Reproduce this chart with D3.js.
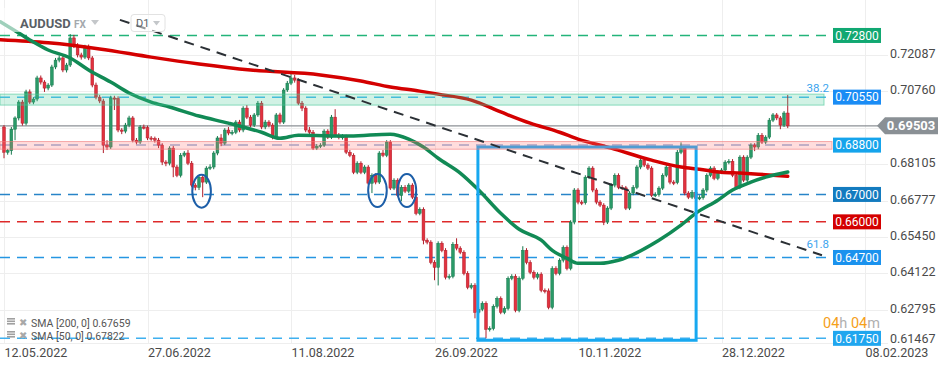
<!DOCTYPE html>
<html>
<head>
<meta charset="utf-8">
<script src="https://cdn.jsdelivr.net/npm/d3@7"></script>
<style>
    body { margin: 0; background: #fff; }
    svg { display: block; font-family: Roboto, "Noto Sans", sans-serif; }
</style>
</head>
<body>
<div id="chart"></div>
<script>
// Daily AUDUSD candles (open = previous close)
const firstOpen = 0.6946;
const closes = [
    0.6854, 0.6860, 0.6938, 0.6979, 0.7037, 0.6960, 0.7074, 0.7037, 0.7048, 0.7125,
    0.7110, 0.7088, 0.7099, 0.7165, 0.7190, 0.7198, 0.7154, 0.7172, 0.7271, 0.7245,
    0.7209, 0.7201, 0.7238, 0.7198, 0.7099, 0.7055, 0.7041, 0.6880, 0.6873, 0.7052,
    0.7050, 0.6935, 0.6931, 0.6953, 0.6979, 0.6898, 0.6891, 0.6946, 0.6944, 0.6906,
    0.6904, 0.6898, 0.6880, 0.6818, 0.6814, 0.6869, 0.6800, 0.6770, 0.6843, 0.6851,
    0.6814, 0.6734, 0.6726, 0.6763, 0.6745, 0.6796, 0.6800, 0.6851, 0.6906, 0.6887,
    0.6935, 0.6924, 0.6927, 0.6964, 0.6935, 0.7015, 0.6982, 0.6953, 0.6990, 0.7033,
    0.6946, 0.6964, 0.6953, 0.6909, 0.6990, 0.6964, 0.7081, 0.7106, 0.7125, 0.7117,
    0.7033, 0.7015, 0.6935, 0.6927, 0.6869, 0.6876, 0.6880, 0.6931, 0.6909, 0.6982,
    0.6916, 0.6909, 0.6911, 0.6854, 0.6843, 0.6781, 0.6814, 0.6781, 0.6800, 0.6741,
    0.6770, 0.6745, 0.6851, 0.6843, 0.6891, 0.6723, 0.6752, 0.6697, 0.6726, 0.6712,
    0.6734, 0.6690, 0.6631, 0.6646, 0.6533, 0.6526, 0.6452, 0.6434, 0.6522, 0.6496,
    0.6398, 0.6401, 0.6518, 0.6504, 0.6489, 0.6412, 0.6361, 0.6368, 0.6270, 0.6281,
    0.6303, 0.6208, 0.6211, 0.6292, 0.6321, 0.6270, 0.6284, 0.6394, 0.6401, 0.6277,
    0.6394, 0.6496, 0.6452, 0.6416, 0.6398, 0.6409, 0.6350, 0.6348, 0.6288, 0.6430,
    0.6412, 0.6460, 0.6507, 0.6430, 0.6599, 0.6716, 0.6672, 0.6670, 0.6763, 0.6796,
    0.6716, 0.6672, 0.6661, 0.6599, 0.6650, 0.6734, 0.6770, 0.6726, 0.6724, 0.6650,
    0.6705, 0.6726, 0.6800, 0.6825, 0.6807, 0.6796, 0.6697, 0.6699, 0.6723, 0.6770,
    0.6800, 0.6745, 0.6743, 0.6854, 0.6869, 0.6705, 0.6690, 0.6708, 0.6686, 0.6688,
    0.6716, 0.6770, 0.6796, 0.6759, 0.6781, 0.6789, 0.6818, 0.6821, 0.6770, 0.6726,
    0.6836, 0.6752, 0.6836, 0.6880, 0.6873, 0.6916, 0.6891, 0.6909, 0.6971, 0.6990,
    0.6979, 0.6953, 0.6997, 0.69503
];
const highs = [
    0.6953, 0.6866, 0.6946, 0.6985, 0.7044, 0.7045, 0.7082, 0.7083, 0.7055, 0.7133,
    0.7134, 0.7117, 0.7106, 0.7173, 0.7198, 0.7207, 0.7206, 0.7180, 0.7285, 0.7282,
    0.7252, 0.7217, 0.7246, 0.7247, 0.7205, 0.7108, 0.7063, 0.7049, 0.6898, 0.7060,
    0.7060, 0.7058, 0.6942, 0.6961, 0.6987, 0.6986, 0.6906, 0.6953, 0.6955, 0.6951,
    0.6913, 0.6911, 0.6906, 0.6887, 0.6825, 0.6876, 0.6877, 0.6808, 0.6851, 0.6858,
    0.6862, 0.6822, 0.6741, 0.6770, 0.6770, 0.6803, 0.6810, 0.6858, 0.6913, 0.6920,
    0.6942, 0.6946, 0.6935, 0.6971, 0.6972, 0.7022, 0.7026, 0.6990, 0.6997, 0.7041,
    0.7041, 0.6972, 0.6971, 0.6960, 0.6997, 0.6998, 0.7088, 0.7114, 0.7140, 0.7136,
    0.7124, 0.7041, 0.7022, 0.6946, 0.6935, 0.6884, 0.6887, 0.6938, 0.6938, 0.6990,
    0.7011, 0.6924, 0.6920, 0.6918, 0.6862, 0.6850, 0.6821, 0.6821, 0.6807, 0.6807,
    0.6777, 0.6777, 0.6858, 0.6862, 0.6898, 0.6898, 0.6759, 0.6759, 0.6734, 0.6734,
    0.6741, 0.6741, 0.6697, 0.6653, 0.6653, 0.6540, 0.6533, 0.6460, 0.6529, 0.6529,
    0.6504, 0.6409, 0.6526, 0.6540, 0.6511, 0.6496, 0.6420, 0.6376, 0.6376, 0.6288,
    0.6310, 0.6310, 0.6219, 0.6299, 0.6328, 0.6328, 0.6292, 0.6401, 0.6409, 0.6409,
    0.6401, 0.6511, 0.6504, 0.6460, 0.6423, 0.6416, 0.6416, 0.6357, 0.6357, 0.6438,
    0.6438, 0.6467, 0.6514, 0.6514, 0.6606, 0.6723, 0.6723, 0.6679, 0.6770, 0.6803,
    0.6803, 0.6723, 0.6679, 0.6668, 0.6657, 0.6741, 0.6777, 0.6777, 0.6734, 0.6731,
    0.6712, 0.6734, 0.6807, 0.6832, 0.6832, 0.6814, 0.6803, 0.6708, 0.6730, 0.6777,
    0.6807, 0.6807, 0.6752, 0.6862, 0.6890, 0.6876, 0.6712, 0.6716, 0.6716, 0.6697,
    0.6723, 0.6777, 0.6803, 0.6803, 0.6789, 0.6796, 0.6825, 0.6829, 0.6829, 0.6777,
    0.6843, 0.6843, 0.6843, 0.6887, 0.6887, 0.6924, 0.6924, 0.6916, 0.6979, 0.6997,
    0.6997, 0.6986, 0.7004, 0.7063
];
const lows = [
    0.6832, 0.6845, 0.6845, 0.6898, 0.6970, 0.6951, 0.6952, 0.7030, 0.7029, 0.7040,
    0.7101, 0.7074, 0.7080, 0.7092, 0.7157, 0.7182, 0.7146, 0.7145, 0.7165, 0.7234,
    0.7200, 0.7192, 0.7194, 0.7190, 0.7091, 0.7047, 0.7033, 0.6851, 0.6862, 0.6866,
    0.7008, 0.6927, 0.6920, 0.6923, 0.6945, 0.6890, 0.6883, 0.6884, 0.6937, 0.6898,
    0.6896, 0.6889, 0.6869, 0.6807, 0.6803, 0.6806, 0.6763, 0.6763, 0.6762, 0.6836,
    0.6807, 0.6726, 0.6715, 0.6716, 0.6690, 0.6738, 0.6789, 0.6792, 0.6843, 0.6876,
    0.6880, 0.6916, 0.6916, 0.6920, 0.6927, 0.6927, 0.6975, 0.6945, 0.6946, 0.6983,
    0.6938, 0.6938, 0.6945, 0.6901, 0.6901, 0.6956, 0.6957, 0.7074, 0.7099, 0.7108,
    0.7026, 0.7004, 0.6927, 0.6916, 0.6862, 0.6862, 0.6869, 0.6873, 0.6902, 0.6902,
    0.6909, 0.6901, 0.6900, 0.6847, 0.6836, 0.6774, 0.6774, 0.6774, 0.6774, 0.6734,
    0.6705, 0.6737, 0.6738, 0.6836, 0.6836, 0.6716, 0.6716, 0.6690, 0.6675, 0.6705,
    0.6705, 0.6683, 0.6624, 0.6624, 0.6518, 0.6518, 0.6445, 0.6387, 0.6368, 0.6489,
    0.6390, 0.6390, 0.6394, 0.6496, 0.6482, 0.6405, 0.6354, 0.6354, 0.6248, 0.6263,
    0.6274, 0.6175, 0.6200, 0.6204, 0.6284, 0.6263, 0.6263, 0.6277, 0.6387, 0.6270,
    0.6270, 0.6387, 0.6445, 0.6409, 0.6390, 0.6390, 0.6343, 0.6339, 0.6281, 0.6281,
    0.6405, 0.6405, 0.6452, 0.6423, 0.6423, 0.6591, 0.6664, 0.6661, 0.6663, 0.6756,
    0.6708, 0.6664, 0.6654, 0.6588, 0.6592, 0.6643, 0.6726, 0.6719, 0.6716, 0.6643,
    0.6643, 0.6697, 0.6719, 0.6792, 0.6800, 0.6789, 0.6690, 0.6690, 0.6692, 0.6716,
    0.6763, 0.6737, 0.6734, 0.6737, 0.6847, 0.6697, 0.6683, 0.6683, 0.6679, 0.6679,
    0.6681, 0.6708, 0.6763, 0.6752, 0.6752, 0.6774, 0.6781, 0.6810, 0.6763, 0.6719,
    0.6719, 0.6745, 0.6745, 0.6829, 0.6858, 0.6865, 0.6884, 0.6884, 0.6902, 0.6964,
    0.6971, 0.6938, 0.6946, 0.6942
];

// Moving averages: [candle index, value]
const sma200 = [
    [-1, 0.7264], [12, 0.7253], [26, 0.7231], [40, 0.7201], [53, 0.7176], [67, 0.7154],
    [86, 0.7136], [97, 0.7114], [105, 0.7092], [113, 0.7077], [118, 0.7066], [127, 0.7044],
    [135, 0.7001], [143, 0.6960], [151, 0.6927], [156, 0.6902], [165, 0.6869], [176, 0.6825],
    [184, 0.6800], [189, 0.6792], [195, 0.6781], [200, 0.6778], [205, 0.6774], [213, 0.6766]
];
const sma50 = [
    [-1, 0.7330], [4, 0.7289], [8, 0.7256], [12, 0.7227], [18, 0.7198], [23, 0.7154],
    [29, 0.7110], [34, 0.7070], [40, 0.7037], [45, 0.7019], [53, 0.6986], [61, 0.6960],
    [70, 0.6927], [75, 0.6905], [80, 0.6916], [94, 0.6913], [105, 0.6920], [110, 0.6902],
    [114, 0.6873], [118, 0.6832], [124, 0.6778], [129, 0.6716], [135, 0.6631], [140, 0.6573],
    [146, 0.6533], [149, 0.6496], [153, 0.6467], [156, 0.6449], [162, 0.6449], [167, 0.6460],
    [178, 0.6533], [184, 0.6588], [188, 0.6631], [194, 0.6679], [198, 0.6716], [203, 0.6745],
    [207, 0.6763], [213, 0.6782]
];

// Horizontal levels and zones
const levels = [0.72800, 0.70550, 0.68800, 0.67000, 0.66000, 0.64700, 0.61750];
const greenZone = [0.7026, 0.7066];
const pinkZone = [0.6865, 0.6893];
const lastPrice = 0.69503;

// Drawings
const trendLine = [[31.5, 0.7337], [222.3, 0.6478]];
const boxCorners = [[128.8, 0.6873], [188.1, 0.6168]];
const circles = [[53.7, 0.6712], [101.5, 0.6714], [109.5, 0.6714]];
const fibLabels = [["38.2", 0.7075], ["61.8", 0.6505]];

// Axes (0.69433 sits under the last-price tag, so only its grid line shows)
const yTicks = [0.72087, 0.70760, 0.69433, 0.68105, 0.66777, 0.65450, 0.64122, 0.62795, 0.61467];
const yHidden = [0.69433];
const xTickIdx = [0, 39, 78, 117, 156, 195, 234];
const xTickLabels = ["12.05.2022", "27.06.2022", "11.08.2022", "26.09.2022", "10.11.2022", "28.12.2022", "08.02.2023"];

const smaLegend = [["SMA [200,  0]", "0.67659"], ["SMA [50,  0]", "0.67822"]];

function drawChart() {
    const width = 949;
    const height = 370;
    const plotBottom = 343;

    const levelStyle = [
        { line: "#23b47a", box: "#11a872" },
        { line: "#45b8f0", box: "#1a8cf5" },
        { line: "#93aed6", box: "#15a4ec" },
        { line: "#2784c8", box: "#137bbf" },
        { line: "#de2a2a", box: "#d40000" },
        { line: "#2596e2", box: "#1a92ee" },
        { line: "#3fb0ef", box: "#20a6ef" }
    ];

    const svg = d3
        .select("#chart")
        .html("")
        .append("svg")
        .attr("width", width)
        .attr("height", height);

    const x = d3.scaleLinear().domain([0, 234]).range([4, 865]);
    const y = d3.scaleLinear().domain([0.61580, 0.74094]).range([plotBottom, 0]);

    // Grid
    const grid = svg.append("g").attr("stroke", "#eeeeee").attr("stroke-width", 1);
    yTicks.forEach((t) => {
        if (y(t) < plotBottom) {
            grid.append("line").attr("x1", 0).attr("x2", 888).attr("y1", Math.round(y(t)) + 0.5).attr("y2", Math.round(y(t)) + 0.5);
        }
    });
    grid.append("line").attr("x1", 0).attr("x2", 888).attr("y1", plotBottom + 0.5).attr("y2", plotBottom + 0.5);
    xTickIdx.forEach((t) => {
        grid.append("line").attr("x1", Math.round(x(t)) + 0.5).attr("x2", Math.round(x(t)) + 0.5).attr("y1", 0).attr("y2", plotBottom);
    });

    // Level lines (dashed)
    levels.forEach((v, i) => {
        svg.append("line")
            .attr("x1", 0)
            .attr("x2", 833)
            .attr("y1", y(v))
            .attr("y2", y(v))
            .attr("stroke", levelStyle[i].line)
            .attr("stroke-width", 1.5)
            .attr("stroke-dasharray", "10,7");
    });

    // Last price line
    svg.append("line")
        .attr("x1", 0)
        .attr("x2", 878)
        .attr("y1", y(lastPrice))
        .attr("y2", y(lastPrice))
        .attr("stroke", "#8c9196")
        .attr("stroke-width", 1.3);

    // Candles
    const candles = closes.map((c, i) => ({
        i,
        o: i === 0 ? firstOpen : closes[i - 1],
        c,
        h: highs[i],
        l: lows[i]
    }));
    const up = { fill: "#2a9a68", stroke: "#17784d" };
    const down = { fill: "#e2323f", stroke: "#b01e2b" };

    const cg = svg.append("g");
    cg.selectAll(".wick")
        .data(candles)
        .join("line")
        .attr("class", "wick")
        .attr("x1", (d) => x(d.i))
        .attr("x2", (d) => x(d.i))
        .attr("y1", (d) => y(Math.max(d.h, d.o, d.c)))
        .attr("y2", (d) => y(Math.min(d.l, d.o, d.c)))
        .attr("stroke", (d) => (d.c >= d.o ? up.stroke : down.stroke))
        .attr("stroke-width", 1);
    cg.selectAll(".body")
        .data(candles)
        .join("rect")
        .attr("class", "body")
        .attr("x", (d) => x(d.i) - 1.4)
        .attr("width", 2.8)
        .attr("y", (d) => y(Math.max(d.o, d.c)))
        .attr("height", (d) => Math.max(1.2, y(Math.min(d.o, d.c)) - y(Math.max(d.o, d.c))))
        .attr("fill", (d) => (d.c >= d.o ? up.fill : down.fill))
        .attr("stroke", (d) => (d.c >= d.o ? up.stroke : down.stroke))
        .attr("stroke-width", 0.5);

    // Moving averages
    const smaLine = d3.line().x((d) => x(d[0])).y((d) => y(d[1])).curve(d3.curveMonotoneX);
    svg.append("path")
        .attr("d", smaLine(sma200))
        .attr("fill", "none")
        .attr("stroke", "#d40000")
        .attr("stroke-width", 3.5)
        .attr("stroke-linecap", "round");
    svg.append("path")
        .attr("d", smaLine(sma50))
        .attr("fill", "none")
        .attr("stroke", "#118a55")
        .attr("stroke-width", 3.5)
        .attr("stroke-linecap", "round");

    // Blue box
    svg.append("rect")
        .attr("x", x(boxCorners[0][0]))
        .attr("y", y(boxCorners[0][1]))
        .attr("width", x(boxCorners[1][0]) - x(boxCorners[0][0]))
        .attr("height", y(boxCorners[1][1]) - y(boxCorners[0][1]))
        .attr("fill", "none")
        .attr("stroke", "#17a8f0")
        .attr("stroke-width", 3);

    // Zones
    svg.append("rect")
        .attr("x", 0)
        .attr("y", y(greenZone[1]))
        .attr("width", 824)
        .attr("height", y(greenZone[0]) - y(greenZone[1]))
        .attr("fill", "rgba(70,205,150,0.25)")
        .attr("stroke", "rgba(70,200,150,0.6)")
        .attr("stroke-width", 1);
    svg.append("rect")
        .attr("x", 0)
        .attr("y", y(pinkZone[1]))
        .attr("width", 832)
        .attr("height", y(pinkZone[0]) - y(pinkZone[1]))
        .attr("fill", "rgba(255,120,120,0.25)")
        .attr("stroke", "rgba(240,120,120,0.6)")
        .attr("stroke-width", 1);

    // Trend line
    svg.append("path")
        .attr("d", d3.line().x((d) => x(d[0])).y((d) => y(d[1]))(trendLine))
        .attr("fill", "none")
        .attr("stroke", "#2b3035")
        .attr("stroke-width", 2)
        .attr("stroke-dasharray", "10,7");

    // Circled spots
    svg.selectAll(".circ")
        .data(circles)
        .join("ellipse")
        .attr("class", "circ")
        .attr("cx", (d) => x(d[0]))
        .attr("cy", (d) => y(d[1]))
        .attr("rx", 9.3)
        .attr("ry", 16.5)
        .attr("fill", "none")
        .attr("stroke", "#1c5ea8")
        .attr("stroke-width", 2);

    // Fibonacci labels
    fibLabels.forEach(([t, v]) => {
        svg.append("text")
            .attr("x", 829)
            .attr("y", y(v))
            .attr("text-anchor", "end")
            .attr("font-size", "11.5px")
            .attr("fill", "#3ca4ee")
            .text(t);
    });

    // Level labels
    levels.forEach((v, i) => {
        svg.append("rect")
            .attr("x", 833)
            .attr("y", y(v) - 7.5)
            .attr("width", 48)
            .attr("height", 15)
            .attr("fill", levelStyle[i].box);
        svg.append("text")
            .attr("x", 857)
            .attr("y", y(v) + 4.2)
            .attr("text-anchor", "middle")
            .attr("font-size", "12px")
            .attr("fill", "#fff")
            .text(v.toFixed(5));
    });

    // Right axis
    svg.append("g")
        .attr("transform", "translate(888,0)")
        .call(d3.axisRight(y).tickValues(yTicks.filter((t) => !yHidden.includes(t)))
            .tickSize(0).tickPadding(2).tickFormat(d3.format(".5f")))
        .call((g) => g.select(".domain").remove())
        .call((g) => g.selectAll(".tick").filter((d) => y(d) > 340).attr("transform", "translate(0,340)"))
        .call((g) => g.selectAll("text")
            .attr("font-family", "Roboto, sans-serif")
            .attr("font-size", "12.5px")
            .attr("fill", "#4a4a4a")
            .attr("dy", "0.2em"));

    // Last price tag
    const ly = y(lastPrice);
    svg.append("path")
        .attr("d", `M877,${ly} L885,${ly - 8.5} L938,${ly - 8.5} L938,${ly + 8.5} L885,${ly + 8.5} Z`)
        .attr("fill", "#8a9095");
    svg.append("text")
        .attr("x", 911)
        .attr("y", ly + 4.6)
        .attr("text-anchor", "middle")
        .attr("font-size", "13px")
        .attr("font-weight", "bold")
        .attr("fill", "#fff")
        .text(lastPrice.toFixed(5));

    // Bottom axis
    svg.append("g")
        .attr("transform", `translate(0,${plotBottom})`)
        .call(d3.axisBottom(x).tickValues(xTickIdx).tickSize(0).tickPadding(5.5).tickFormat((d, i) => xTickLabels[i]))
        .call((g) => g.select(".domain").remove())
        .call((g) => g.selectAll("text")
            .attr("text-anchor", "start")
            .attr("font-family", "Roboto, sans-serif")
            .attr("font-size", "12.5px")
            .attr("fill", "#4a4a4a"));

    // Countdown
    const cd = svg.append("text").attr("x", 823).attr("y", 327.5).attr("font-size", "14.5px");
    cd.append("tspan").attr("fill", "#f5a01a").text("04");
    cd.append("tspan").attr("fill", "#b0b0b0").text("h ");
    cd.append("tspan").attr("fill", "#f5a01a").text("04");
    cd.append("tspan").attr("fill", "#b0b0b0").text("m");

    // Legend
    smaLegend.forEach(([name, val], i) => {
        const ry = 323 + i * 13;
        const lg = svg.append("g");
        [0, 2.5, 5].forEach((dy) => {
            lg.append("rect").attr("x", 7).attr("y", ry - 5 + dy).attr("width", 8).attr("height", 1.6).attr("fill", "#a0a0a0");
        });
        lg.append("text").attr("x", 19).attr("y", ry + 3).attr("font-size", "10px").attr("fill", "#a8a8a8").text("✖");
        lg.append("text").attr("x", 31).attr("y", ry + 4).attr("font-size", "10.5px").attr("fill", "#555")
            .text(`${name} ${val}`);
    });

    // Header
    svg.append("rect").attr("x", 0).attr("y", 8).attr("width", 112).attr("height", 24).attr("fill", "rgba(255,255,255,0.6)");
    svg.append("text").attr("x", 20).attr("y", 28).attr("font-size", "13px").attr("font-weight", "bold").attr("fill", "#5a5f66").text("AUDUSD");
    svg.append("text").attr("x", 74).attr("y", 28).attr("font-size", "10px").attr("font-weight", "bold").attr("fill", "#a4a8ad").text("FX");
    svg.append("path").attr("d", "M91,20 L99,20 L95,25 Z").attr("fill", "#c4c7ca");
    svg.append("rect").attr("x", 131).attr("y", 14.5).attr("width", 34).attr("height", 17).attr("rx", 3)
        .attr("fill", "rgba(255,255,255,0.5)").attr("stroke", "#e2e2e2");
    svg.append("text").attr("x", 136).attr("y", 27).attr("font-size", "11px").attr("fill", "#5a5f66").text("D1");
    svg.append("path").attr("d", "M153,21 L160,21 L156.5,25.5 Z").attr("fill", "#c4c7ca");
}

drawChart();
</script>
</body>
</html>
